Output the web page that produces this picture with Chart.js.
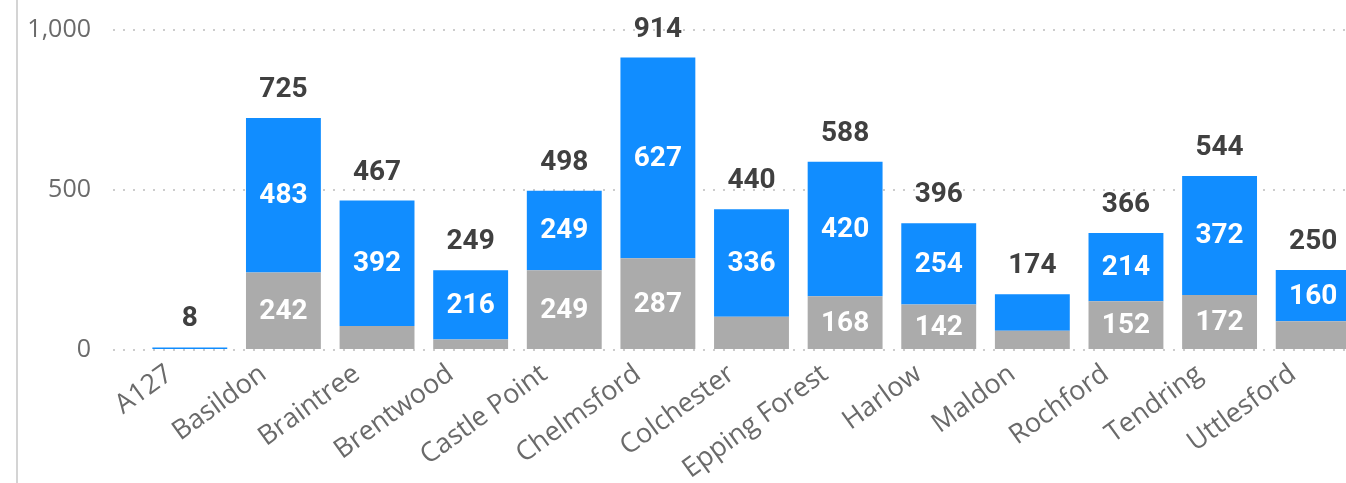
<!DOCTYPE html>
<html>
<head>
<meta charset="utf-8">
<script src="https://cdn.jsdelivr.net/npm/chart.js@4.4.1/dist/chart.umd.min.js"></script>
<style>
    html, body { margin: 0; padding: 0; background: #fff; overflow: hidden; }
    #wrap { position: relative; width: 1360px; height: 483px; }
    #edge { position: absolute; left: 16px; top: 0; width: 0; height: 483px; border-left: 2px solid #d4d4d4; }
    canvas { display: block; }
</style>
</head>
<body>
<div id="wrap">
    <div id="edge"></div>
    <canvas id="districtChart" width="1360" height="483"></canvas>
</div>
<script>
// ===== District totals, stacked =====
const districts = ["A127", "Basildon", "Braintree", "Brentwood", "Castle Point", "Chelmsford",
    "Colchester", "Epping Forest", "Harlow", "Maldon", "Rochford", "Tendring", "Uttlesford"];
const greyValues = [0, 242, 75, 33, 249, 287, 104, 168, 142, 60, 152, 172, 90];
const blueValues = [8, 483, 392, 216, 249, 627, 336, 420, 254, 114, 214, 372, 160];
const totals = [8, 725, 467, 249, 498, 914, 440, 588, 396, 174, 366, 544, 250];
const yTicks = [0, 500, 1000];

const labelFont = "bold 28px Roboto";

// Draw the values inside the segments and the totals on top
const valueLabels = {
    id: "valueLabels",
    afterDatasetsDraw(chart) {
        const c = chart.ctx;
        c.save();
        c.font = labelFont;
        c.textAlign = "center";
        c.textBaseline = "middle";
        chart.data.datasets.forEach((ds, i) => {
            const meta = chart.getDatasetMeta(i);
            meta.data.forEach((bar, j) => {
                const h = bar.base - bar.y;
                if (h < 40) return;
                c.fillStyle = "#ffffff";
                c.fillText(ds.data[j], bar.x, (bar.y + bar.base) / 2 + 1);
            });
        });
        const top = chart.getDatasetMeta(1);
        top.data.forEach((bar, j) => {
            c.fillStyle = "#404040";
            c.fillText(totals[j], bar.x, bar.y - 28);
        });
        c.restore();
    }
};

const ctx = document.getElementById("districtChart").getContext("2d");
const districtChart = new Chart(ctx, {
    type: "bar",
    data: {
        labels: districts,
        datasets: [
            { label: "Grey", data: greyValues, backgroundColor: "#ababab", barPercentage: 0.8, categoryPercentage: 1 },
            { label: "Blue", data: blueValues, backgroundColor: "#118dff", barPercentage: 0.8, categoryPercentage: 1 }
        ]
    },
    options: {
        responsive: false,
        animation: false,
        devicePixelRatio: 1,
        layout: { padding: { top: 30, left: 0, right: 0, bottom: 0 } },
        plugins: { legend: { display: false }, tooltip: { enabled: false } },
        scales: {
            x: {
                stacked: true,
                grid: { display: false },
                border: { display: false },
                ticks: {
                    minRotation: 36, maxRotation: 36, padding: 0,
                    labelOffset: -20,
                    color: "#6a6a6a",
                    font: { family: "Open Sans", size: 27 }
                },
                afterFit: (scale) => { scale.height = 133; scale.paddingTop = 0; }
            },
            y: {
                stacked: true,
                min: 0, max: 1000,
                afterBuildTicks: (scale) => { scale.ticks = yTicks.map(v => ({ value: v })); },
                afterFit: (scale) => { scale.width = 143; scale.paddingTop = 0; scale.paddingBottom = 0; },
                border: { display: false, dash: [2, 8] },
                grid: {
                    color: "#cccccc",
                    lineWidth: 2,
                    tickLength: 30,
                    tickColor: "#cccccc",
                    tickBorderDash: [2, 8],
                    tickWidth: 2
                },
                ticks: {
                    padding: 22,
                    color: "#6a6a6a",
                    font: { family: "Open Sans", size: 25 },
                    callback: (v) => v.toLocaleString("en-GB")
                }
            }
        }
    },
    plugins: [valueLabels]
});
</script>
</body>
</html>
